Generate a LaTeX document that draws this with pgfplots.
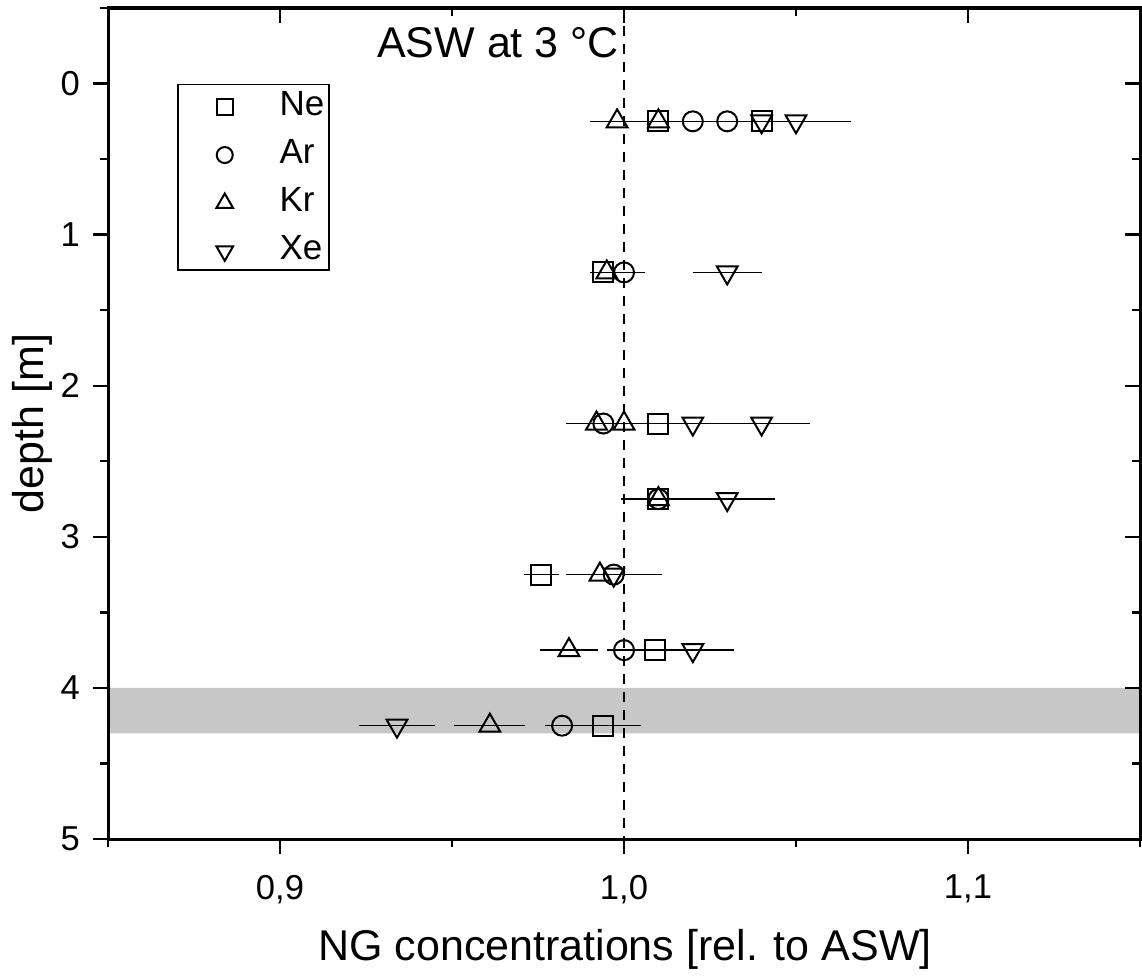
\documentclass[border=0pt]{standalone}
\usepackage{fontspec}
\setmainfont{Liberation Sans}
\usepackage{pgfplots}
\pgfplotsset{compat=1.18}

\pgfplotsset{
  ngbase/.style={
    scale only axis, width=516pt, height=415.5pt,
    xmin=0.85, xmax=1.15, ymin=-0.5, ymax=5, y dir=reverse,
    xtick={0.9,1.0,1.1}, minor xtick={0.85,0.95,1.05,1.15},
    ytick={0,1,2,3,4,5}, minor ytick={-0.5,0.5,1.5,2.5,3.5,4.5},
    major tick length=7.5pt, minor tick length=4pt,
    every tick/.style={black, line width=1.2pt},
    axis line style={line width=1.5pt},
  },
  ngmark/.style={only marks, mark size=5pt, mark options={line width=1pt, fill=none, solid},
    error bars/x dir=both, error bars/x explicit, error bars/error mark=none,
    error bars/error bar style={line width=0.7pt, black}},
}

\begin{document}
\begin{tikzpicture}
\begin{axis}[ngbase,
  tick pos=left, tick align=outside,
  /pgf/number format/assume math mode=true,
  /pgf/number format/use comma, /pgf/number format/fixed,
  /pgf/number format/fixed zerofill, /pgf/number format/precision=1,
  yticklabel={\pgfmathprintnumber[precision=0,fixed zerofill=false]{\tick}},
  tick label style={font=\fontsize{17.3}{20}\selectfont},
  xticklabel style={yshift=-7pt},
  yticklabel style={xshift=-3pt},
  xlabel={NG concentrations [rel. to ASW]},
  ylabel={depth [m]},
  label style={font=\fontsize{21.5}{25}\selectfont},
  xlabel style={at={(axis description cs:0.501,0)}, anchor=base, yshift=-60.5pt},
  ylabel style={at={(axis description cs:-0.0736,0.5)}, anchor=center},
  legend cell align=left,
  legend style={at={(0.067,0.909)}, anchor=north west, draw=black, line width=0.8pt,
    font=\fontsize{17.5}{21}\selectfont, inner xsep=2.5pt, inner ysep=1.5pt,
    nodes={inner xsep=0pt, inner ysep=2pt}, row sep=6.5pt,
    /tikz/every even column/.append style={column sep=0pt}},
  legend image code/.code={%
    \path (-20.5pt,0pt) (27pt,0pt);
    \draw[#1, /tikz/every mark/.append style={scale=0.8}] plot coordinates {(0pt,-1pt)};},
]
% grey depth band
\addplot[draw=none, fill=black!22, forget plot]
  coordinates {(0.85,4.0) (1.15,4.0) (1.15,4.3) (0.85,4.3)} \closedcycle;
% reference line
\addplot[dashed, dash pattern=on 5pt off 4pt, line width=1pt, forget plot]
  coordinates {(1.0,-0.5) (1.0,5)};

% Ne
\addplot[ngmark, mark=square] coordinates {
  (1.010,0.25) +- (0.010,0)
  (1.040,0.25) +- (0.010,0)
  (0.994,1.25) +- (0.004,0)
  (1.010,2.25) +- (0.010,0)
  (1.010,2.75) +- (0.008,0)
  (0.976,3.25) +- (0.005,0)
  (1.009,3.75) +- (0.010,0)
  (0.994,4.25) +- (0.011,0)
};
\addlegendentry{Ne}
% Ar
\addplot[ngmark, mark=o] coordinates {
  (1.020,0.25) +- (0.010,0)
  (1.030,0.25) +- (0.010,0)
  (1.000,1.25) +- (0.006,0)
  (0.994,2.25) +- (0.008,0)
  (1.010,2.75) +- (0.008,0)
  (0.997,3.25) +- (0.010,0)
  (1.000,3.75) +- (0.005,0)
  (0.982,4.25) +- (0.005,0)
};
\addlegendentry{Ar}
% Kr
\addplot[ngmark, mark=triangle, mark size=6pt] coordinates {
  (0.998,0.25) +- (0.008,0)
  (1.010,0.25) +- (0.008,0)
  (0.995,1.25) +- (0.005,0)
  (0.992,2.25) +- (0.009,0)
  (1.000,2.25) +- (0.010,0)
  (1.010,2.75) +- (0.011,0)
  (0.993,3.25) +- (0.010,0)
  (0.984,3.75) +- (0.0085,0)
  (0.961,4.25) +- (0.0103,0)
};
\addlegendentry{Kr}
% Xe
\addplot[ngmark, mark=triangle, mark size=6pt,
  mark options={rotate=180, line width=1pt, fill=none, solid}] coordinates {
  (1.040,0.25) +- (0.015,0)
  (1.050,0.25) +- (0.016,0)
  (1.030,1.25) +- (0.010,0)
  (1.020,2.25) +- (0.012,0)
  (1.040,2.25) +- (0.014,0)
  (1.030,2.75) +- (0.014,0)
  (0.997,3.25) +- (0.014,0)
  (1.020,3.75) +- (0.012,0)
  (0.934,4.25) +- (0.011,0)
};
\addlegendentry{Xe}

\node[anchor=base, font=\fontsize{21.5}{25}\selectfont]
  at (axis description cs:0.378,0.941) {ASW at 3 °C};
\end{axis}
\path (current axis.south west) ++(-54pt,-65.5pt) (current axis.north east) ++(1pt,4pt);
\begin{axis}[ngbase, overlay, tick pos=right, tick align=inside,
  xticklabels={}, yticklabels={}]
\end{axis}
\end{tikzpicture}
\end{document}
